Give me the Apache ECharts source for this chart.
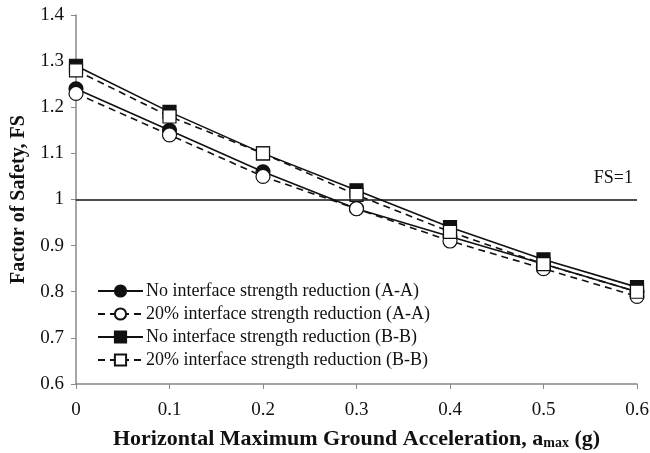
<!DOCTYPE html>
<html>
<head>
<meta charset="utf-8">
<script src="https://cdn.jsdelivr.net/npm/echarts@6/dist/echarts.min.js"></script>
<style>
  html, body { margin: 0; padding: 0; background: #fff; }
  #chart { width: 650px; height: 453px; }
</style>
</head>
<body>
<div id="chart"></div>
<script>
// Horizontal maximum ground acceleration (g)
const accel = [0, 0.1, 0.2, 0.3, 0.4, 0.5, 0.6];

// Factor of safety for each section / interface condition
const fsNoRedAA = [1.24, 1.15, 1.06, 0.98, 0.92, 0.86, 0.80];
const fsRedAA   = [1.23, 1.14, 1.05, 0.98, 0.91, 0.85, 0.79];
const fsNoRedBB = [1.29, 1.19, 1.10, 1.02, 0.94, 0.87, 0.81];
const fsRedBB   = [1.28, 1.18, 1.10, 1.01, 0.93, 0.86, 0.80];

const seriesNames = [
  'No interface strength reduction (A-A)',
  '20% interface strength reduction (A-A)',
  'No interface strength reduction (B-B)',
  '20% interface strength reduction (B-B)'
];

const FONT = '"Liberation Serif", "Times New Roman", serif';

function pairs(ys) { return accel.map((x, i) => [x, ys[i]]); }

function makeSeries(name, ys, symbol, filled, dashed, size) {
  return {
    name: name,
    type: 'line',
    data: pairs(ys),
    symbol: symbol,
    symbolSize: size,
    showAllSymbol: true,
    lineStyle: { color: '#111', width: 1.6, type: dashed ? [7, 5] : 'solid' },
    itemStyle: { color: filled ? '#111' : '#fff', borderColor: '#111', borderWidth: 1.2 },
    emphasis: { disabled: true },
    z: 3
  };
}

const chart = echarts.init(document.getElementById('chart'), null, { renderer: 'canvas' });

const series = [
  makeSeries(seriesNames[0], fsNoRedAA, 'circle', true, false, 14),
  makeSeries(seriesNames[1], fsRedAA, 'circle', false, true, 14),
  makeSeries(seriesNames[2], fsNoRedBB, 'rect', true, false, 13),
  makeSeries(seriesNames[3], fsRedBB, 'rect', false, true, 13)
];

// FS = 1 reference line
series[0].markLine = {
  silent: true,
  symbol: ['none', 'none'],
  lineStyle: { color: '#111', width: 1.5, type: 'solid' },
  label: {
    show: true,
    position: 'insideEndTop',
    formatter: 'FS=1',
    color: '#111',
    fontFamily: FONT,
    fontSize: 18,
    distance: [4, 12]
  },
  data: [{ yAxis: 1 }]
};

chart.setOption({
  animation: false,
  backgroundColor: '#fff',
  grid: { left: 76, right: 13, top: 15, bottom: 69, containLabel: false, outerBoundsMode: 'none' },
  legend: {
    data: seriesNames,
    orient: 'vertical',
    left: 92,
    top: 277,
    itemWidth: 45,
    itemHeight: 14,
    itemGap: 5,
    textStyle: { fontFamily: FONT, fontSize: 18, color: '#111', padding: [0, 0, 0, -2] }
  },
  xAxis: {
    type: 'value',
    min: 0,
    max: 0.6,
    interval: 0.1,
    axisLine: { lineStyle: { color: '#888', width: 1.5 } },
    axisTick: { show: true, length: 5, lineStyle: { color: '#888' } },
    splitLine: { show: false },
    axisLabel: { fontFamily: FONT, fontSize: 19, color: '#111', margin: 17 },
    name: '{b|Horizontal Maximum Ground Acceleration, a}{s|max}{b| (g)}',
    nameLocation: 'middle',
    nameGap: 44,
    nameTextStyle: {
      rich: {
        b: { fontFamily: FONT, fontSize: 22, fontWeight: 'bold', color: '#111' },
        s: { fontFamily: FONT, fontSize: 14, fontWeight: 'bold', color: '#111', verticalAlign: 'bottom', padding: [8, 0, 0, 0] }
      }
    }
  },
  yAxis: {
    type: 'value',
    min: 0.6,
    max: 1.4,
    interval: 0.1,
    axisLine: { show: true, lineStyle: { color: '#888', width: 1.5 } },
    axisTick: { show: true, length: 5, lineStyle: { color: '#888' } },
    splitLine: { show: false },
    axisLabel: { fontFamily: FONT, fontSize: 19, color: '#111', margin: 12 },
    name: 'Factor of Safety, FS',
    nameLocation: 'middle',
    nameGap: 47,
    nameTextStyle: { fontFamily: FONT, fontSize: 20, fontWeight: 'bold', color: '#111' }
  },
  series: series
});
</script>
</body>
</html>
